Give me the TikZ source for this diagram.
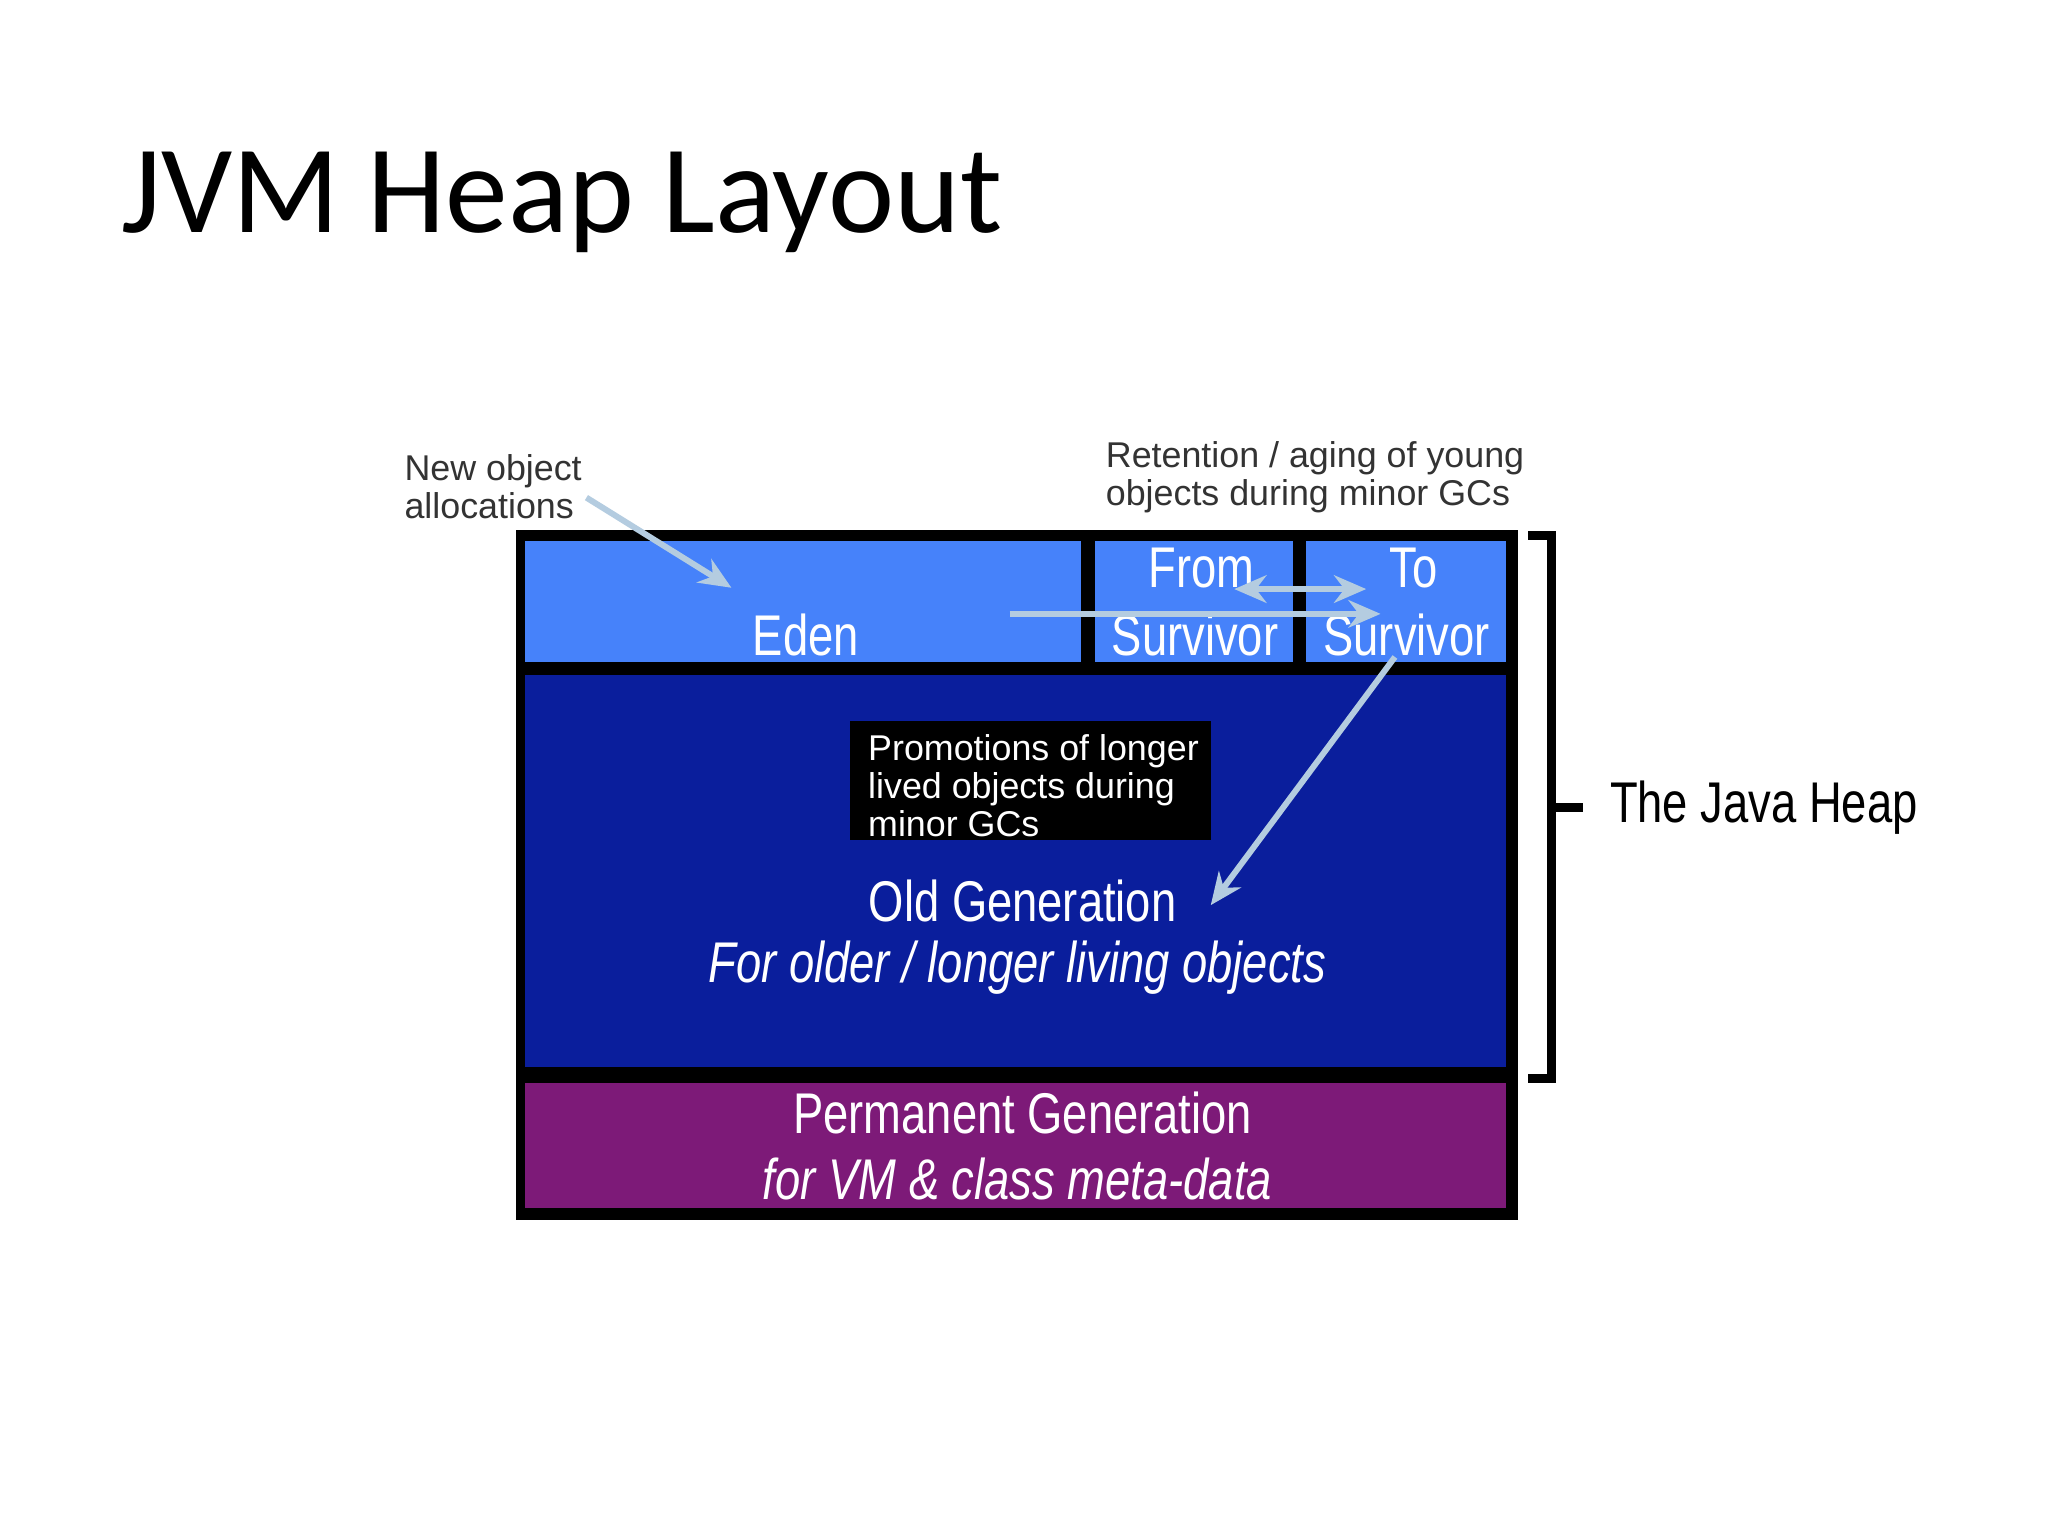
\documentclass[tikz,border=0pt]{standalone}
\usepackage{fontspec}
\setmainfont{Liberation Sans}
\newfontfamily\titlefont{Carlito}
\usetikzlibrary{arrows.meta,decorations.pathreplacing}
\definecolor{eden}{HTML}{4682FA}
\definecolor{oldgen}{HTML}{0A1E9C}
\definecolor{perm}{HTML}{7D1A78}
\definecolor{arr}{HTML}{B4CCE0}
\newcommand{\nar}[1]{\scalebox{0.79}[1]{#1}}
\tikzset{
  wt/.style={text=white,font=\fontsize{12.5}{14}\selectfont,inner sep=0pt},
  note/.style={text=black!80,font=\fontsize{7.8}{7}\selectfont,align=left,inner sep=0pt,anchor=north west},
  flow/.style={draw=arr,line width=1.3pt,-{Stealth[length=7pt,width=6pt]}},
}
\begin{document}
\begin{tikzpicture}[x=0.01cm,y=-0.01cm]
\useasboundingbox[fill=white] (0,0) rectangle (1568,1176);
\node[anchor=base west,inner sep=0pt,font=\titlefont\fontsize{27.3}{28}\selectfont] (title) at (92,178) {JVM Heap Layout};
\fill[black] (395,406) rectangle (1162,934);
\fill[eden] (402,414) rectangle (828,507);
\fill[eden] (838,414) rectangle (990,507);
\fill[eden] (1000,414) rectangle (1153,507);
\fill[oldgen] (402,517) rectangle (1153,817);
\fill[perm] (402,829) rectangle (1153,925);
\node[wt] (edent) at (617,486) {\nar{Eden}};
\node[wt] (fromt) at (920,435) {\nar{From}};
\node[wt] (fromt2) at (915,486) {\nar{Survivor}};
\node[wt] (tot) at (1082,435) {\nar{To}};
\node[wt] (tot2) at (1077,486) {\nar{Survivor}};
\node[wt] (oldt) at (783,690) {\nar{Old Generation}};
\node[wt] (oldt2) at (779,741) {\nar{\itshape For older / longer living objects}};
\node[wt] (permt) at (783,852) {\nar{Permanent Generation}};
\node[wt] (permt2) at (779,903) {\nar{\itshape for VM \& class meta-data}};
\fill[black] (651,552) rectangle (927,643);
\node[note,text=white] (promo) at (664,562) {Promotions of longer\\lived objects during\\minor GCs};
\node[note] (newobj) at (309,347) {New object\\allocations};
\node[note] (ret) at (846,337) {Retention / aging of young\\objects during minor GCs};
\draw[line width=2pt] (1170,410) -- (1188,410) -- (1188,826) -- (1170,826);
\draw[line width=2pt] (1188,618) -- (1212,618);
\node[anchor=west,inner sep=0pt,font=\fontsize{12.5}{14}\selectfont] (heap) at (1232,618) {\nar{The Java Heap}};
\coordinate (a1) at (449,381); \coordinate (a2) at (560,450);
\draw[flow] (a1) -- (a2);
\coordinate (b1) at (773,470); \coordinate (b2) at (1057,470);
\draw[flow] (b1) -- (b2);
\coordinate (c1) at (945,451); \coordinate (c2) at (1046,451);
\draw[flow,{Stealth[length=7pt,width=6pt]}-{Stealth[length=7pt,width=6pt]}] (c1) -- (c2);
\coordinate (d1) at (1068,503); \coordinate (d2) at (927,693);
\draw[flow] (d1) -- (d2);
\end{tikzpicture}
\end{document}
